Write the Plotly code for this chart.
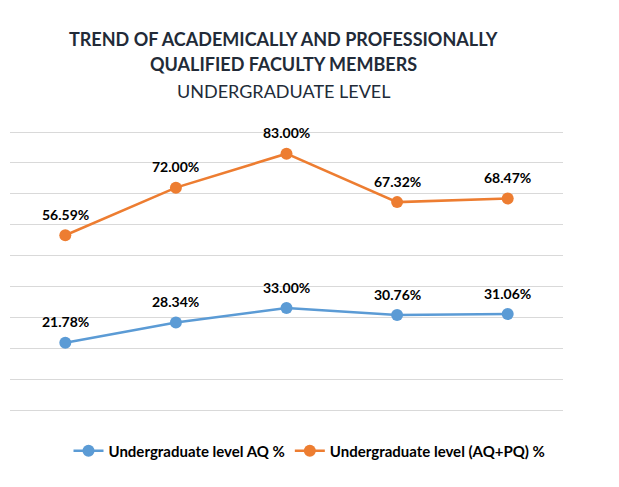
import plotly.graph_objects as go

categories = ["Period 1", "Period 2", "Period 3", "Period 4", "Period 5"]
aq_values = [21.78, 28.34, 33.00, 30.76, 31.06]
aqpq_values = [56.59, 72.00, 83.00, 67.32, 68.47]
series_names = ["Undergraduate level AQ %", "Undergraduate level (AQ+PQ) %"]
title_lines = ["TREND OF ACADEMICALLY AND PROFESSIONALLY", "QUALIFIED FACULTY MEMBERS", "UNDERGRADUATE LEVEL"]

FONT = "Lato"
blue = "#5B9BD5"
orange = "#ED7D31"

fig = go.Figure()
for name, vals, col in [(series_names[0], aq_values, blue), (series_names[1], aqpq_values, orange)]:
    fig.add_trace(go.Scatter(
        x=categories, y=vals, name=name, mode="lines+markers",
        line=dict(color=col, width=2.5),
        marker=dict(color=col, size=12),
        cliponaxis=False,
    ))
    for c, v in zip(categories, vals):
        fig.add_annotation(x=c, y=v, xref="x", yref="y", text=f"<b>{v:.2f}%</b>", showarrow=False,
                           yshift=21, xanchor="center", yanchor="middle",
                           font=dict(family=FONT, size=14, color="#000000"))

fig.update_layout(
    width=611, height=479,
    margin=dict(l=2, r=56, t=121, b=77, autoexpand=False),
    paper_bgcolor="white", plot_bgcolor="white",
    showlegend=True,
    legend=dict(orientation="h", x=0.5416, xanchor="center", y=-0.146, yanchor="middle",
                font=dict(family=FONT, size=15, color="#000000", weight="bold"),
                traceorder="normal", itemwidth=30),
    font=dict(family=FONT),
)
fig.update_xaxes(type="category", range=[-0.5, 4.5], showticklabels=False, showgrid=False,
                 zeroline=False, showline=False, ticks="")
fig.update_yaxes(range=[0, 91], dtick=10, showticklabels=False, showgrid=True, gridcolor="#D9D9D9",
                 gridwidth=1, zeroline=True, zerolinecolor="#D9D9D9", zerolinewidth=1, showline=False, ticks="")

ys = [1.320, 1.231, 1.135]
for i, (t, y) in enumerate(zip(title_lines, ys)):
    fig.add_annotation(text=(f"<b>{t}</b>" if i < 2 else t), x=0.494, y=y, xref="paper", yref="paper",
                       xanchor="center", yanchor="middle", showarrow=False,
                       font=dict(family=FONT, size=18, color="#222B38"))

fig.write_html("out.html")
